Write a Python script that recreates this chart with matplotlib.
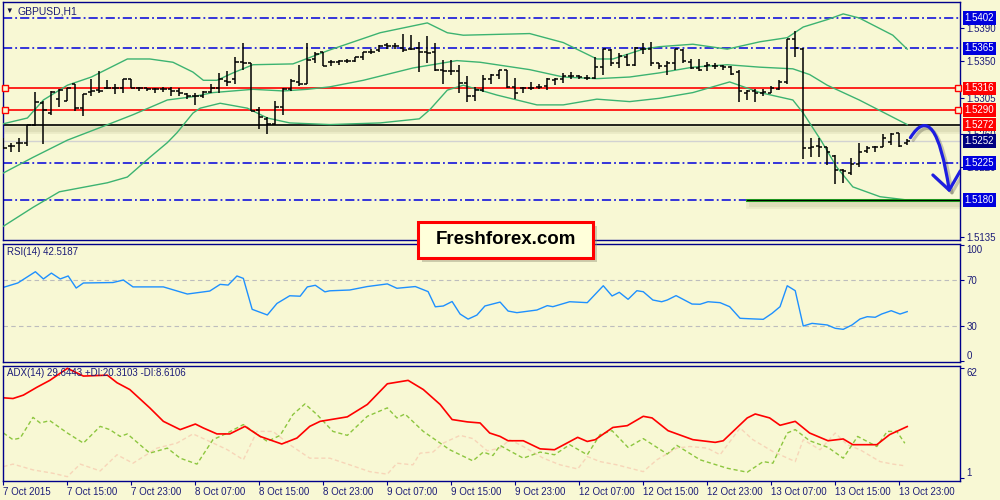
import matplotlib.pyplot as plt
import matplotlib.patheffects as pe
from matplotlib.patches import Rectangle, FancyArrowPatch
from matplotlib.path import Path
import numpy as np

plt.rcParams['font.family'] = ['Liberation Sans', 'DejaVu Sans']

# GBPUSD H1 bars (7 Oct 07:00 .. 14 Oct 00:00)
opens = [1.5246, 1.5246, 1.5249, 1.5250, 1.5272, 1.5298, 1.5286, 1.5303, 1.5301, 1.5321,
         1.5292, 1.5312, 1.5314, 1.5316, 1.5317, 1.5317, 1.5327, 1.5316, 1.5316, 1.5315,
         1.5315, 1.5315, 1.5313, 1.5309, 1.5307, 1.5307, 1.5312, 1.5317, 1.5325, 1.5327,
         1.5348, 1.5347, 1.5290, 1.5279, 1.5273, 1.5294, 1.5315, 1.5324, 1.5322, 1.5352,
         1.5360, 1.5348, 1.5348, 1.5349, 1.5349, 1.5355, 1.5360, 1.5363, 1.5369, 1.5368,
         1.5366, 1.5364, 1.5366, 1.5360, 1.5360, 1.5338, 1.5337, 1.5337, 1.5323, 1.5307,
         1.5314, 1.5327, 1.5333, 1.5338, 1.5318, 1.5316, 1.5316, 1.5318, 1.5319, 1.5326,
         1.5328, 1.5331, 1.5331, 1.5329, 1.5329, 1.5342, 1.5363, 1.5347, 1.5355, 1.5345,
         1.5364, 1.5364, 1.5347, 1.5344, 1.5347, 1.5363, 1.5348, 1.5341, 1.5343, 1.5343,
         1.5344, 1.5342, 1.5336, 1.5311, 1.5313, 1.5311, 1.5311, 1.5315, 1.5324, 1.5376,
         1.5364, 1.5243, 1.5246, 1.5245, 1.5234, 1.5216, 1.5213, 1.5224, 1.5240, 1.5245,
         1.5245, 1.5251, 1.5262, 1.5249]
highs = [1.5256, 1.5250, 1.5256, 1.5272, 1.5312, 1.5301, 1.5313, 1.5315, 1.5317, 1.5322,
         1.5309, 1.5327, 1.5337, 1.5326, 1.5321, 1.5327, 1.5327, 1.5318, 1.5317, 1.5317,
         1.5318, 1.5318, 1.5317, 1.5311, 1.5311, 1.5313, 1.5321, 1.5335, 1.5337, 1.5355,
         1.5371, 1.5347, 1.5294, 1.5281, 1.5301, 1.5317, 1.5328, 1.5345, 1.5371, 1.5360,
         1.5360, 1.5351, 1.5351, 1.5352, 1.5355, 1.5361, 1.5364, 1.5369, 1.5371, 1.5371,
         1.5382, 1.5381, 1.5373, 1.5380, 1.5372, 1.5351, 1.5351, 1.5345, 1.5331, 1.5318,
         1.5333, 1.5334, 1.5338, 1.5338, 1.5329, 1.5318, 1.5324, 1.5321, 1.5329, 1.5329,
         1.5335, 1.5336, 1.5333, 1.5333, 1.5355, 1.5364, 1.5364, 1.5359, 1.5358, 1.5367,
         1.5372, 1.5373, 1.5347, 1.5349, 1.5364, 1.5364, 1.5352, 1.5352, 1.5348, 1.5347,
         1.5345, 1.5343, 1.5338, 1.5314, 1.5315, 1.5315, 1.5319, 1.5326, 1.5376, 1.5386,
         1.5365, 1.5256, 1.5256, 1.5245, 1.5235, 1.5218, 1.5231, 1.5250, 1.5246, 1.5246,
         1.5260, 1.5262, 1.5262, 1.5254]
lows = [1.5242, 1.5239, 1.5239, 1.5246, 1.5270, 1.5248, 1.5284, 1.5294, 1.5301, 1.5288,
        1.5282, 1.5307, 1.5311, 1.5315, 1.5309, 1.5311, 1.5316, 1.5313, 1.5313, 1.5311,
        1.5312, 1.5307, 1.5307, 1.5303, 1.5296, 1.5305, 1.5310, 1.5311, 1.5319, 1.5321,
        1.5339, 1.5288, 1.5267, 1.5261, 1.5272, 1.5284, 1.5313, 1.5319, 1.5321, 1.5347,
        1.5344, 1.5343, 1.5345, 1.5347, 1.5348, 1.5351, 1.5358, 1.5360, 1.5364, 1.5364,
        1.5360, 1.5363, 1.5336, 1.5347, 1.5337, 1.5322, 1.5333, 1.5311, 1.5299, 1.5301,
        1.5312, 1.5321, 1.5327, 1.5316, 1.5303, 1.5310, 1.5314, 1.5315, 1.5314, 1.5320,
        1.5323, 1.5328, 1.5328, 1.5326, 1.5327, 1.5333, 1.5343, 1.5341, 1.5344, 1.5343,
        1.5358, 1.5344, 1.5340, 1.5332, 1.5338, 1.5347, 1.5340, 1.5337, 1.5337, 1.5340,
        1.5338, 1.5333, 1.5299, 1.5302, 1.5300, 1.5307, 1.5310, 1.5314, 1.5322, 1.5354,
        1.5230, 1.5233, 1.5233, 1.5223, 1.5200, 1.5201, 1.5211, 1.5220, 1.5237, 1.5238,
        1.5245, 1.5247, 1.5245, 1.5247]
closes = [1.5244, 1.5246, 1.5250, 1.5272, 1.5299, 1.5290, 1.5312, 1.5314, 1.5317, 1.5292,
          1.5309, 1.5313, 1.5313, 1.5317, 1.5316, 1.5327, 1.5317, 1.5316, 1.5315, 1.5315,
          1.5315, 1.5313, 1.5310, 1.5307, 1.5307, 1.5312, 1.5317, 1.5327, 1.5324, 1.5348,
          1.5347, 1.5289, 1.5281, 1.5273, 1.5294, 1.5315, 1.5325, 1.5322, 1.5351, 1.5358,
          1.5344, 1.5348, 1.5349, 1.5349, 1.5354, 1.5360, 1.5361, 1.5368, 1.5368, 1.5368,
          1.5363, 1.5364, 1.5360, 1.5359, 1.5338, 1.5337, 1.5337, 1.5323, 1.5307, 1.5314,
          1.5327, 1.5332, 1.5338, 1.5318, 1.5311, 1.5317, 1.5317, 1.5318, 1.5327, 1.5327,
          1.5331, 1.5331, 1.5330, 1.5329, 1.5342, 1.5364, 1.5347, 1.5356, 1.5345, 1.5366,
          1.5364, 1.5347, 1.5343, 1.5347, 1.5364, 1.5349, 1.5341, 1.5339, 1.5345, 1.5344,
          1.5342, 1.5334, 1.5313, 1.5313, 1.5311, 1.5312, 1.5317, 1.5324, 1.5376, 1.5365,
          1.5243, 1.5245, 1.5245, 1.5239, 1.5217, 1.5215, 1.5224, 1.5239, 1.5243, 1.5245,
          1.5256, 1.5261, 1.5246, 1.5252]

# Bollinger bands (bar index, price)
bb_up_x = [0, 3, 5, 8, 11, 15.5, 18.3, 21.2, 23.7, 25, 26.7, 28.7, 31.2, 36.2, 40.8, 47.1, 53, 55.5,
           57.5, 65.8, 70, 74.2, 76.2, 80, 82, 86.2, 90.5, 94.6, 98, 100, 103, 105, 107, 111.2, 113]
bb_up = [1.5273, 1.5280, 1.5302, 1.5320, 1.5330, 1.5352, 1.5352, 1.5348, 1.5336, 1.5326, 1.5326,
         1.5335, 1.5345, 1.5346, 1.5363, 1.5384, 1.5396, 1.5384, 1.5381, 1.5383, 1.5372, 1.5352,
         1.5352, 1.5364, 1.5367, 1.5370, 1.5364, 1.5373, 1.5378, 1.5391, 1.5400, 1.5407, 1.5402,
         1.5381, 1.5364]
bb_mid_x = [0, 3.7, 8, 12, 16.2, 20.5, 23.7, 26.2, 28.7, 31.2, 35, 38, 40.8, 45, 51.2, 56.7, 59.6,
            65.8, 70, 74.2, 78.3, 82, 86.2, 90.5, 94.6, 98.7, 100.8, 103, 107, 111.2, 113]
bb_mid = [1.5213, 1.5232, 1.5253, 1.5268, 1.5284, 1.5302, 1.5306, 1.5311, 1.5313, 1.5315, 1.5313,
          1.5315, 1.5318, 1.5326, 1.5341, 1.5350, 1.5348, 1.5339, 1.5330, 1.5328, 1.5330, 1.5335,
          1.5342, 1.5345, 1.5342, 1.5340, 1.5333, 1.5320, 1.5302, 1.5281, 1.5272]
bb_lo_x = [0, 3.7, 7, 13, 15.5, 18.3, 20.5, 21.7, 23.7, 24.6, 27.1, 30.5, 33, 35.8, 40.8, 47.1, 52,
           53.3, 55.5, 57.5, 61.7, 66.7, 70, 74.2, 78.3, 82, 86.2, 90.8, 94.6, 98.7, 100, 102.2,
           104.2, 106.2, 109.6, 113]
bb_lo = [1.5148, 1.5171, 1.5190, 1.5201, 1.5208, 1.5232, 1.5250, 1.5262, 1.5286, 1.5292, 1.5298,
         1.5292, 1.5280, 1.5274, 1.5272, 1.5274, 1.5279, 1.5290, 1.5314, 1.5320, 1.5308, 1.5296,
         1.5296, 1.5303, 1.5300, 1.5304, 1.5311, 1.5324, 1.5311, 1.5302, 1.5286, 1.5253, 1.5220,
         1.5196, 1.5184, 1.5180]

# RSI(14)
rsi_x = [0, 1.8, 4, 5, 6, 7.1, 8.1, 9.1, 10, 13.7, 15, 16.2, 20, 23, 25.8, 27.1, 28.1, 29.2, 30,
         31.1, 33, 34.2, 35.8, 37.1, 38, 39, 40.2, 40.8, 43.3, 45.5, 48, 49.2, 51.5, 53.1, 54, 55,
         56.1, 57.1, 58.1, 59.2, 60.2, 62.1, 63.1, 64.2, 66.7, 68, 68.7, 70.8, 73, 75, 76.1, 77,
         78.1, 79.2, 80, 81.2, 82.3, 83, 84.1, 86.1, 87.1, 88.1, 89.6, 90.8, 92.1, 93.3, 95, 96.1,
         97.1, 98, 99, 100, 101.1, 103, 104, 105, 106.1, 107.1, 108, 109, 109.8, 111, 112.1, 113]
rsi = [63.6, 67.4, 77.2, 70.9, 76, 70.9, 73.5, 63, 67.4, 67.8, 70, 64, 64, 57.8, 60.4, 66.2, 65.6,
       73.5, 71.4, 44.5, 39.6, 49.6, 56.3, 55.9, 64, 65.4, 59.7, 60.6, 61.3, 64.3, 66.6, 62.8, 64.3,
       59.9, 46.7, 47.4, 51.3, 40.4, 36, 39.5, 47.4, 50.8, 43, 41.6, 43.9, 47.7, 46.8, 51.1, 50.3,
       65, 56.1, 59.3, 53.2, 60.7, 59.8, 52.6, 51.1, 52.6, 56.4, 49.1, 48.9, 51.1, 50.3, 46.8, 36.7,
       36.3, 35.8, 41, 46.8, 65, 60.7, 30, 32.3, 30.9, 28, 27.1, 30.9, 36.1, 38.1, 37.6, 40.4, 43.3,
       40.4, 42.5]

# ADX(14), +DI, -DI
adx_x = [0, 1.2, 2.5, 4.2, 5.8, 8, 10, 13, 14.2, 15.8, 18.3, 20, 22.1, 24, 25, 26.7, 28.3, 30.2,
         32.1, 34.8, 36.7, 38.3, 39.6, 43, 45.5, 48, 50.6, 52.5, 54.6, 56.1, 58, 59.6, 60.8, 62.1,
         63.1, 65, 67.1, 68.9, 71.8, 73, 74, 76.2, 78, 80, 81.1, 83.1, 86.2, 89, 90, 93, 94, 95.8,
         97.1, 99, 100.8, 103.1, 105, 106.2, 109.2, 110.8, 113]
adx = [45.6, 45.2, 47.1, 51.5, 55.3, 62, 57.7, 58.2, 54, 50.2, 40, 32.5, 27.9, 31, 28.8, 25.5,
       25.5, 29.7, 24.1, 19.9, 23.2, 29.7, 32.5, 35, 41.9, 53.4, 55.3, 50.2, 41.9, 33.5, 32.2,
       31.6, 26, 24.1, 21.7, 21.7, 17.2, 16.7, 23.6, 21.3, 22.3, 29.1, 30.1, 35.3, 34.4, 27.3,
       22.3, 20.8, 21.7, 34.4, 36.6, 34.4, 30.3, 32.5, 26, 21.7, 22.7, 19.5, 19.5, 25.1, 29.6]
pdi_x = [0, 1.2, 2.1, 3.7, 4.6, 5.8, 8, 10, 12.1, 13.3, 14.6, 15.5, 18.3, 20.5, 22.1, 24.2, 26.2,
         28, 30, 33, 34.6, 36.2, 37.7, 39.2, 41.2, 43, 45.5, 48, 49.2, 50.2, 52.5, 55.8, 58.7, 60,
         61.2, 62.1, 63.3, 65, 67.1, 68.9, 70.8, 73, 74.6, 76.1, 78.1, 80, 83, 84.2, 87.1, 90.5,
         93, 95, 96.2, 98, 99, 100.8, 103.1, 105, 106.8, 109.2, 110.5, 111.7, 112.7]
pdi = [26, 22.3, 23.2, 34.7, 31.6, 32.9, 26, 20.4, 29.7, 27.9, 24.1, 25.5, 14.8, 17.6, 12, 8.7,
       22.3, 26, 30.7, 21.3, 24.7, 36.3, 42.2, 36.3, 26.9, 24.7, 35.3, 40, 34.4, 36.6, 26.9, 16.7,
       10.5, 15.4, 13.5, 19.1, 16.1, 12, 15.4, 13.9, 19.5, 13.9, 25.1, 27.3, 18, 22.9, 14.3, 19.1,
       11.1, 6.4, 4.2, 10.1, 9.2, 26, 27.9, 21.7, 18, 12, 24.1, 18.5, 26.9, 26.9, 20.3]
mdi_x = [0, 1.2, 3.7, 6.2, 8, 9.6, 12.1, 14.2, 16.2, 19.2, 21.7, 23.7, 25.8, 28, 30, 31.7, 33.7,
         35.8, 38.3, 40.8, 43.3, 45.8, 48, 49.2, 51.2, 52.1, 53.7, 55, 57.1, 58.7, 60.5, 62.1,
         63.3, 65, 67.5, 69.6, 71.8, 73, 74.6, 76.7, 80, 81.7, 84.2, 85.8, 88, 89.6, 92.1, 93.7,
         96.2, 99, 100, 102.1, 104, 105.5, 107.1, 109.6, 111.2, 112.5]
mdi = [7.3, 8.7, 5.5, 3.6, 1.7, 8.7, 4.9, 13.9, 9.2, 17.6, 20.4, 25.5, 21.3, 16.7, 11.1, 26.9,
       26.9, 19.5, 12, 12, 8.3, 4.5, 3.1, 9.2, 8.3, 14.8, 15.4, 20.4, 24.7, 22.9, 16.1, 17.6, 22.3,
       18.5, 12, 8.3, 6, 12.9, 10.1, 8.3, 4.5, 11.1, 17.6, 18.5, 17.6, 13.9, 28.8, 22.3, 15.7,
       10.1, 22.3, 16.7, 26, 19.5, 16.7, 10.1, 8.7, 7.9]

# levels drawn on the chart
blue_levels = [1.5402, 1.5365, 1.5225, 1.5180]
red_levels = [1.5316, 1.5290]
black_level = 1.5272
bid = 1.5252
target = 1.5180
price_ticks = [1.5390, 1.5350, 1.5305, 1.5260, 1.5220, 1.5135]
time_labels = ['7 Oct 2015', '7 Oct 15:00', '7 Oct 23:00', '8 Oct 07:00', '8 Oct 15:00',
               '8 Oct 23:00', '9 Oct 07:00', '9 Oct 15:00', '9 Oct 23:00', '12 Oct 07:00',
               '12 Oct 15:00', '12 Oct 23:00', '13 Oct 07:00', '13 Oct 15:00', '13 Oct 23:00']

bg = '#F8F8D4'
navy = '#00008B'
txt = '#1C1C78'
blue = '#0000DD'

fig = plt.figure(figsize=(10, 5), dpi=100, facecolor=bg)
ax1 = fig.add_axes([0.003, 0.52, 0.957, 0.476])
ax2 = fig.add_axes([0.003, 0.276, 0.957, 0.236])
ax3 = fig.add_axes([0.003, 0.038, 0.957, 0.23])

for ax in (ax1, ax2, ax3):
    ax.set_facecolor(bg)
    ax.set_xlim(-0.05, 119.6)
    for s in ax.spines.values():
        s.set_color(navy)
        s.set_linewidth(1)
    ax.yaxis.tick_right()
    ax.tick_params(axis='y', colors=navy, labelcolor=txt, labelsize=7, length=3, width=0.8, pad=1.5)
    ax.tick_params(axis='x', bottom=False, labelbottom=False)

# ---- price panel ----
ax1.set_ylim(1.51312, 1.54215)
x = np.arange(len(closes))
ax1.vlines(x, lows, highs, color='black', lw=1.1, zorder=4)
ax1.hlines(opens, x - 0.4, x, color='black', lw=1.1, zorder=4)
ax1.hlines(closes, x, x + 0.4, color='black', lw=1.1, zorder=4)

for bx, by in ((bb_up_x, bb_up), (bb_mid_x, bb_mid), (bb_lo_x, bb_lo)):
    ax1.plot(bx, by, color='#3CB371', lw=1, zorder=3)

for lv in blue_levels:
    ax1.axhline(lv, color=blue, lw=1.1, ls=(0, (6, 2, 1.2, 2)), zorder=2)
for lv in red_levels:
    ax1.axhline(lv, color='red', lw=1.2, zorder=2)
    ax1.plot([0.2, 119.3], [lv, lv], ls='none', marker='s', ms=4, mfc=bg, mec='red', mew=1,
             clip_on=False, zorder=5)
shadow = [pe.SimpleLineShadow(offset=(3, -3), shadow_color='#8a8a60', alpha=0.12, linewidth=7),
          pe.SimpleLineShadow(offset=(3, -3), shadow_color='#8a8a60', alpha=0.12, linewidth=3.5),
          pe.Normal()]
ax1.axhline(black_level, color='black', lw=1.2, zorder=2, path_effects=shadow)
ax1.axhline(bid, color='#D2D2D2', lw=1, zorder=1)
ax1.plot([93, 119.6], [target, target], color='#22AA22', lw=2.2, zorder=3, path_effects=shadow)
ax1.plot([93, 119.6], [target, target], color='black', lw=0.9, zorder=3)

# hand-drawn forecast arrow
arrow_path = Path([(113.4, 1.5256), (116.5, 1.5305), (118.3, 1.5189)],
                  [Path.MOVETO, Path.CURVE3, Path.CURVE3])
arr = FancyArrowPatch(path=arrow_path, arrowstyle='->,head_length=0.5,head_width=0.4',
                      mutation_scale=25, color='#1E1EE0', lw=2.3, zorder=6,
                      path_effects=[pe.SimpleLineShadow(offset=(2, -2), alpha=0.2), pe.Normal()])
ax1.add_patch(arr)

ax1.set_yticks(price_ticks)
ax1.set_yticklabels([f'{p:.4f}' for p in price_ticks])

boxes = [(1.5402, blue), (1.5365, blue), (1.5316, '#FF0000'), (1.5290, '#FF0000'),
         (1.5272, '#FF0000'), (1.5252, '#000080'), (1.5225, blue), (1.5180, blue)]
for lv, c in boxes:
    ax1.text(1.0045, lv, f'{lv:.4f}', transform=ax1.get_yaxis_transform(), ha='left',
             va='center', fontsize=7, color='white', zorder=7, clip_on=False,
             bbox=dict(boxstyle='square,pad=0.18', fc=c, ec='none'))

fig.text(0.005, 0.978, '▼', fontsize=5.5, color='#101040', va='center')
fig.text(0.018, 0.978, 'GBPUSD,H1', fontsize=7.5, color=txt, va='center')

# ---- RSI panel ----
ax2.set_ylim(-1.3, 101.3)
for lv in (70, 30):
    ax2.axhline(lv, color='#BDBDBD', lw=0.8, ls=(0, (4, 3)))
ax2.plot(rsi_x, rsi, color='#1E90FF', lw=1)
ax2.set_yticks([100, 70, 30, 0])
ax2.set_yticklabels(['100', '70', '30', '0'])
lbls = ax2.get_yticklabels()
lbls[0].set_va('top')
lbls[3].set_va('bottom')
fig.text(0.007, 0.496, 'RSI(14) 42.5187', fontsize=7, color=txt, va='center')

# ---- ADX panel ----
ax3.set_ylim(-0.7, 63.3)
ax3.plot(mdi_x, mdi, color='#F7D5B8', lw=1, ls=(0, (3, 2)))
ax3.plot(pdi_x, pdi, color='#8DC63F', lw=1, ls=(0, (3, 2)))
ax3.plot(adx_x, adx, color='red', lw=1.2)
ax3.set_yticks([62, 1])
ax3.set_yticklabels(['62', '1'])
lbls = ax3.get_yticklabels()
lbls[0].set_va('top')
lbls[1].set_va('bottom')
fig.text(0.007, 0.254, 'ADX(14) 29.6443 +DI:20.3103 -DI:8.6106', fontsize=7, color=txt,
         va='center')

ax3.set_xticks(np.arange(0, 120, 8))
ax3.set_xticklabels(time_labels)
ax3.tick_params(axis='x', bottom=True, labelbottom=True, direction='out', length=3, width=0.8,
                colors=navy, labelcolor=txt, labelsize=7, pad=1.5)
for t in ax3.get_xticklabels():
    t.set_horizontalalignment('left')

# ---- watermark box ----
fig.add_artist(Rectangle((0.422, 0.477), 0.175, 0.072, transform=fig.transFigure,
                         fc='#8a8a70', ec='none', alpha=0.4, zorder=9))
fig.add_artist(Rectangle((0.418, 0.484), 0.175, 0.072, transform=fig.transFigure,
                         fc='#FFFFDA', ec='#FF0000', lw=2.2, zorder=10))
fig.text(0.5055, 0.52, 'Freshforex.com', ha='center', va='center', fontsize=13.5,
         fontweight='bold', color='black', zorder=11)

fig.savefig('out.png', dpi=100, facecolor=bg)
